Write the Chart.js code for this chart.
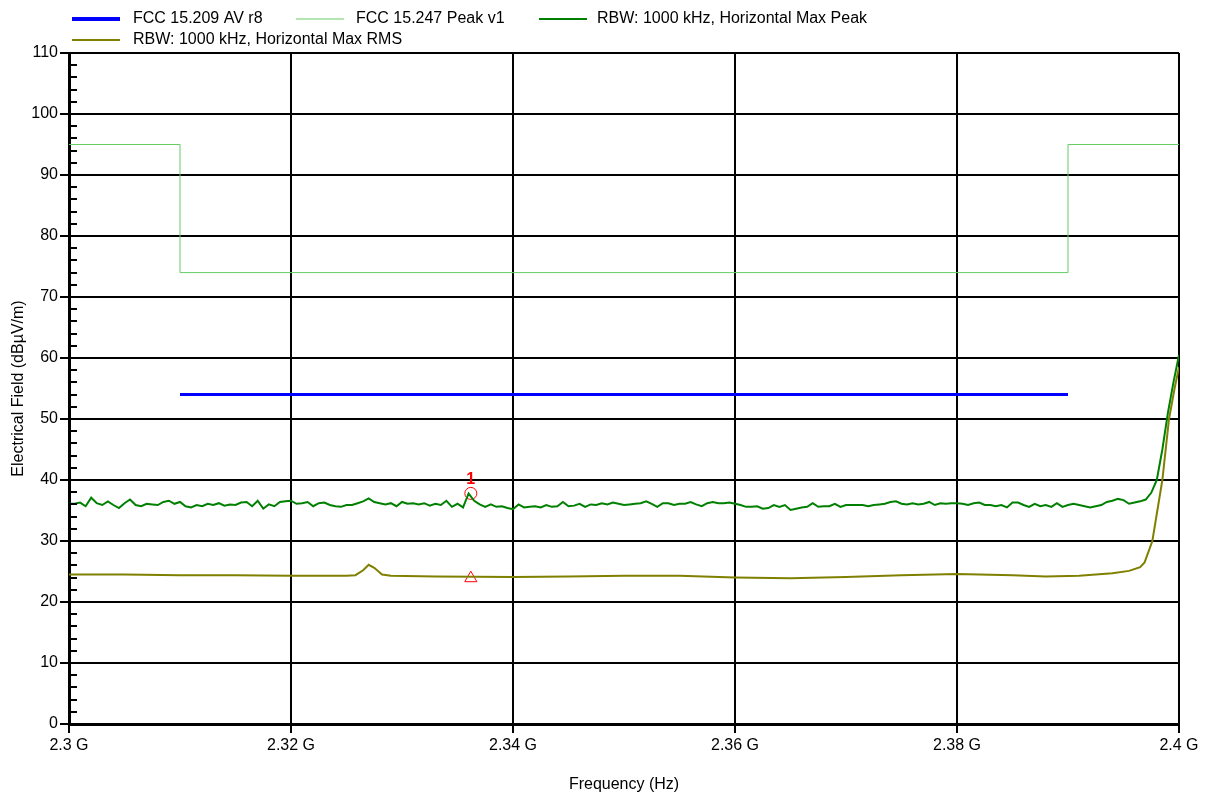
<!DOCTYPE html>
<html lang="en">
<head>
    <meta charset="UTF-8">
    <title>Electrical Field vs Frequency</title>
    <script src="https://cdn.jsdelivr.net/npm/chart.js"></script>
    <style>
        body {
            margin: 0;
            background: #fff;
        }
        #chartBox {
            width: 1207px;
            height: 794px;
        }
    </style>
</head>
<body>
    <div id="chartBox">
        <canvas id="fieldChart" width="1207" height="794"></canvas>
    </div>

    <script>
        // frequency axis in GHz
        const xTickValues = [2.3, 2.32, 2.34, 2.36, 2.38, 2.4];

        // FCC 15.209 AV limit
        const avLimitFreqs = [2.31, 2.39];
        const avLimitValues = [54, 54];

        // FCC 15.247 peak limit (stepped)
        const peakLimitFreqs = [2.3, 2.31, 2.39, 2.4];
        const peakLimitValues = [95, 74, 95, 95];

        // max peak trace, one reading every 0.5 MHz from 2.3 GHz
        const sweepStart = 2.3;
        const sweepStep = 0.0005;
        const maxPeakValues = [
            36.1, 36.1, 36.3, 35.7, 37.1, 36.2, 35.9, 36.5, 35.9, 35.4,
            36.2, 36.8, 35.9, 35.7, 36.1, 36.0, 35.9, 36.4, 36.6, 36.1,
            36.4, 35.7, 35.5, 35.9, 35.7, 36.1, 35.9, 36.2, 35.8, 36.0,
            35.9, 36.3, 36.4, 35.7, 36.6, 35.3, 36.0, 35.7, 36.4, 36.5,
            36.6, 36.1, 36.2, 36.4, 35.7, 36.2, 36.3, 35.9, 35.7, 35.6,
            35.9, 35.9, 36.2, 36.5, 37.0, 36.4, 36.2, 36.0, 36.2, 35.7,
            36.4, 36.1, 36.2, 36.0, 36.2, 35.8, 36.1, 35.9, 36.6, 35.6,
            36.1, 35.5, 37.8, 36.6, 36.0, 35.6, 36.0, 35.6, 35.7, 35.4,
            35.2, 36.0, 35.5, 35.6, 35.7, 35.5, 35.9, 35.6, 35.7, 36.4,
            35.7, 35.8, 36.1, 35.6, 36.0, 35.9, 36.2, 36.0, 36.3, 36.1,
            35.9, 36.0, 36.1, 36.2, 36.5, 36.1, 35.6, 36.2, 36.2, 35.9,
            36.1, 36.1, 36.4, 36.0, 35.7, 36.2, 36.4, 36.2, 36.2, 36.3,
            36.1, 35.9, 35.6, 35.6, 35.7, 35.3, 35.4, 35.9, 35.6, 35.9,
            35.1, 35.3, 35.5, 35.6, 36.2, 35.6, 35.7, 35.7, 36.1, 35.6,
            35.9, 35.9, 35.9, 35.9, 35.7, 35.9, 36.0, 36.1, 36.4, 36.5,
            36.1, 36.0, 36.2, 36.0, 36.1, 36.4, 35.9, 36.2, 36.1, 36.2,
            36.2, 36.1, 35.9, 36.2, 36.3, 35.9, 35.9, 35.7, 35.9, 35.5,
            36.3, 36.3, 35.9, 35.6, 36.1, 35.7, 35.9, 35.6, 36.2, 35.6,
            35.9, 36.1, 35.9, 35.7, 35.5, 35.7, 35.9, 36.4, 36.6, 36.9,
            36.7, 36.1, 36.3, 36.5, 36.8, 37.9, 40.0, 45.0, 51.0, 56.0,
            60.5
        ];

        // max RMS trace
        const maxRmsFreqs = [
            2.3, 2.305, 2.31, 2.315, 2.32, 2.325, 2.3258, 2.3265, 2.327, 2.3275,
            2.3282, 2.329, 2.333, 2.34, 2.345, 2.35, 2.355, 2.36, 2.365, 2.37,
            2.375, 2.38, 2.385, 2.388, 2.391, 2.394, 2.3955, 2.3965, 2.3969, 2.3976,
            2.3985, 2.3991, 2.3996, 2.4
        ];
        const maxRmsValues = [
            24.5, 24.5, 24.4, 24.4, 24.3, 24.3, 24.4, 25.2, 26.1, 25.6,
            24.5, 24.3, 24.2, 24.1, 24.2, 24.3, 24.3, 24.0, 23.9, 24.1,
            24.4, 24.6, 24.4, 24.2, 24.3, 24.7, 25.1, 25.7, 26.5, 30.0,
            40.0, 50.0, 55.0, 58.5
        ];

        // marker 1
        const markerFreq = 2.3362;
        const markerPeak = 37.8;
        const markerRms = 23.9;
        const markerLabel = '1';

        const FONT = "'Liberation Sans', Arial, sans-serif";

        function toPoints(xs, ys) {
            return ys.map((y, i) => ({ x: xs[i], y: y }));
        }

        const sweepFreqs = maxPeakValues.map((v, i) => sweepStart + i * sweepStep);

        // legend drawn like the original: fixed rows, line samples
        const legendLines = {
            id: 'legendLines',
            afterDraw(chart) {
                const ctx = chart.ctx;
                const spots = [
                    { x: 72, y: 19, tx: 133 },
                    { x: 296, y: 19, tx: 356 },
                    { x: 539, y: 19, tx: 597 },
                    { x: 72, y: 40, tx: 133 }
                ];
                ctx.save();
                ctx.font = '16px ' + FONT;
                ctx.textBaseline = 'middle';
                ctx.fillStyle = '#000';
                spots.forEach((s, i) => {
                    const ds = chart.data.datasets[i];
                    ctx.strokeStyle = ds.borderColor;
                    ctx.lineWidth = i === 0 ? 4 : ds.borderWidth;
                    ctx.beginPath();
                    ctx.moveTo(s.x, s.y);
                    ctx.lineTo(s.x + 48, s.y);
                    ctx.stroke();
                    ctx.fillText(ds.label, s.tx, s.y);
                });
                ctx.restore();
            }
        };

        // small inside ticks on the y axis and the marker number
        const extraMarks = {
            id: 'extraMarks',
            afterDraw(chart) {
                const ctx = chart.ctx;
                const y = chart.scales.y;
                const x = chart.scales.x;
                const left = chart.chartArea.left;
                ctx.save();
                ctx.strokeStyle = '#000';
                ctx.lineWidth = 2;
                for (let v = 2; v < 110; v += 2) {
                    if (v % 10 === 0) continue;
                    const py = Math.round(y.getPixelForValue(v));
                    ctx.beginPath();
                    ctx.moveTo(left, py);
                    ctx.lineTo(left + 8, py);
                    ctx.stroke();
                }
                ctx.fillStyle = '#ff0000';
                ctx.font = 'bold 16px ' + FONT;
                ctx.textAlign = 'center';
                ctx.textBaseline = 'bottom';
                ctx.fillText(markerLabel, x.getPixelForValue(markerFreq), y.getPixelForValue(markerPeak) - 6);
                ctx.restore();
            }
        };

        const ctx = document.getElementById('fieldChart').getContext('2d');
        new Chart(ctx, {
            type: 'line',
            data: {
                datasets: [
                    {
                        label: 'FCC 15.209 AV r8',
                        data: toPoints(avLimitFreqs, avLimitValues),
                        borderColor: '#0000ff',
                        borderWidth: 3
                    },
                    {
                        label: 'FCC 15.247 Peak v1',
                        data: toPoints(peakLimitFreqs, peakLimitValues),
                        borderColor: '#66cc66',
                        borderWidth: 1,
                        stepped: true
                    },
                    {
                        label: 'RBW: 1000 kHz, Horizontal Max Peak',
                        data: toPoints(sweepFreqs, maxPeakValues),
                        borderColor: '#008000',
                        borderWidth: 2
                    },
                    {
                        label: 'RBW: 1000 kHz, Horizontal Max RMS',
                        data: toPoints(maxRmsFreqs, maxRmsValues),
                        borderColor: '#808000',
                        borderWidth: 2
                    },
                    {
                        label: 'marker peak',
                        type: 'scatter',
                        data: [{ x: markerFreq, y: markerPeak }],
                        pointStyle: 'circle',
                        pointRadius: 6,
                        borderColor: '#ff0000',
                        backgroundColor: 'rgba(0,0,0,0)',
                        borderWidth: 1
                    },
                    {
                        label: 'marker rms',
                        type: 'scatter',
                        data: [{ x: markerFreq, y: markerRms }],
                        pointStyle: 'triangle',
                        pointRadius: 7,
                        borderColor: '#ff0000',
                        backgroundColor: 'rgba(0,0,0,0)',
                        borderWidth: 1
                    }
                ]
            },
            options: {
                responsive: false,
                animation: false,
                layout: {
                    padding: { top: 53, right: 28, left: 0, bottom: 0 }
                },
                elements: {
                    point: { radius: 0 },
                    line: { tension: 0 }
                },
                plugins: {
                    legend: { display: false },
                    tooltip: { enabled: false }
                },
                scales: {
                    x: {
                        type: 'linear',
                        min: 2.3,
                        max: 2.4,
                        afterBuildTicks: scale => {
                            scale.ticks = xTickValues.map(v => ({ value: v }));
                        },
                        afterFit: scale => { scale.height = 70; },
                        ticks: {
                            color: '#000',
                            font: { family: FONT, size: 16 },
                            padding: 3,
                            maxRotation: 0,
                            callback: value => (+value.toFixed(2)) + ' G'
                        },
                        grid: {
                            color: '#000',
                            lineWidth: 2,
                            tickLength: 9
                        },
                        border: { color: '#000', width: 3 },
                        title: {
                            display: true,
                            text: 'Frequency (Hz)',
                            color: '#000',
                            font: { family: FONT, size: 16 },
                            padding: { top: 0, bottom: 0 }
                        }
                    },
                    y: {
                        min: 0,
                        max: 110,
                        afterFit: scale => { scale.width = 69; },
                        ticks: {
                            stepSize: 10,
                            color: '#000',
                            font: { family: FONT, size: 16 },
                            padding: 2
                        },
                        grid: {
                            color: '#000',
                            lineWidth: 2,
                            tickLength: 9
                        },
                        border: { color: '#000', width: 3 },
                        title: {
                            display: true,
                            text: 'Electrical Field (dBµV/m)',
                            color: '#000',
                            font: { family: FONT, size: 16 },
                            padding: { top: 9, bottom: 0 }
                        }
                    }
                }
            },
            plugins: [legendLines, extraMarks]
        });
    </script>
</body>
</html>
